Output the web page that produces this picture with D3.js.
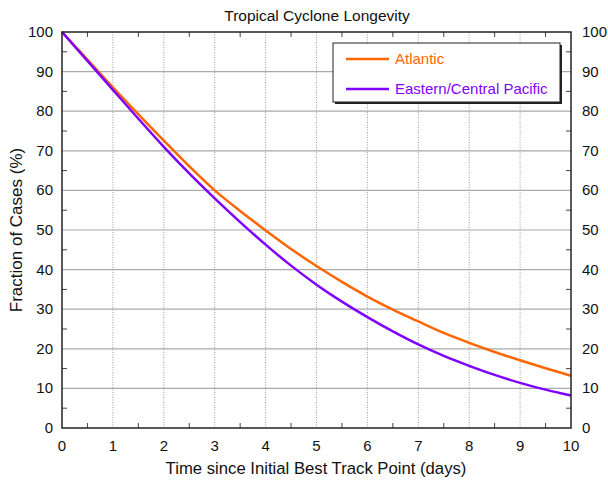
<!DOCTYPE html>
<html>
<head>
<meta charset="utf-8">
<script src="https://cdn.jsdelivr.net/npm/d3@7"></script>
<style>
  body { margin: 0; background: #fff; }
  svg { display: block; font-family: "Liberation Sans", Arial, sans-serif; }
</style>
</head>
<body>
<div id="chart"></div>
<script>
  const days = [0, 0.5, 1, 1.5, 2, 2.5, 3, 3.5, 4, 4.5, 5, 5.5, 6, 6.5, 7, 7.5, 8, 8.5, 9, 9.5, 10];
  const atlantic = [100, 93, 86, 79.2, 72.6, 66.1, 60, 54.8, 49.9, 45.2, 40.9, 36.9, 33.2, 29.9, 26.9, 24, 21.5, 19.2, 17.1, 15.1, 13.2];
  const pacific = [100, 92.7, 85.4, 78.1, 71, 64.3, 58, 52, 46.3, 41, 36.2, 31.9, 28, 24.4, 21.1, 18.2, 15.7, 13.4, 11.4, 9.7, 8.2];
  const seriesNames = ["Atlantic", "Eastern/Central Pacific"];
  const seriesColors = ["#ff6600", "#7f00ff"];
  const xTicks = d3.range(0, 11, 1);
  const yTicks = d3.range(0, 101, 10);

  const width = 608, height = 484;
  const margin = { top: 32, right: 37, bottom: 56, left: 62 };
  const iw = width - margin.left - margin.right;
  const ih = height - margin.top - margin.bottom;

  const svg = d3.select("#chart").append("svg")
    .attr("width", width)
    .attr("height", height);

  const g = svg.append("g")
    .attr("transform", "translate(" + margin.left + "," + margin.top + ")");

  const x = d3.scaleLinear().domain([0, 10]).range([0, iw]);
  const y = d3.scaleLinear().domain([0, 100]).range([ih, 0]);

  // grid: dotted verticals, solid horizontals
  g.selectAll(".vgrid").data(xTicks.slice(1, -1)).enter().append("line")
    .attr("x1", d => x(d)).attr("x2", d => x(d))
    .attr("y1", 0).attr("y2", ih)
    .style("stroke", "#999").style("stroke-width", 1).style("stroke-dasharray", "1,1.5");
  g.selectAll(".hgrid").data(yTicks.slice(1, -1)).enter().append("line")
    .attr("x1", 0).attr("x2", iw)
    .attr("y1", d => y(d)).attr("y2", d => y(d))
    .style("stroke", "#aaa").style("stroke-width", 1.2);

  // inward ticks on all four sides
  const tickStyle = sel => sel.style("stroke", "#444").style("stroke-width", 1);
  const xMinor = d3.range(0.5, 10, 1);
  const yMinor = d3.range(5, 100, 10);
  tickStyle(g.selectAll(".xmb").data(xMinor).enter().append("line")
    .attr("x1", d => x(d)).attr("x2", d => x(d)).attr("y1", ih).attr("y2", ih - 5));
  tickStyle(g.selectAll(".xmt").data(xMinor).enter().append("line")
    .attr("x1", d => x(d)).attr("x2", d => x(d)).attr("y1", 0).attr("y2", 5));
  tickStyle(g.selectAll(".yml").data(yMinor).enter().append("line")
    .attr("x1", 0).attr("x2", 5).attr("y1", d => y(d)).attr("y2", d => y(d)));
  tickStyle(g.selectAll(".ymr").data(yMinor).enter().append("line")
    .attr("x1", iw).attr("x2", iw - 5).attr("y1", d => y(d)).attr("y2", d => y(d)));

  // tick labels
  g.selectAll(".xl").data(xTicks).enter().append("text")
    .attr("x", d => x(d)).attr("y", ih + 23)
    .attr("text-anchor", "middle")
    .style("font-size", "15px").style("fill", "#111")
    .text(d => d);
  g.selectAll(".yl").data(yTicks).enter().append("text")
    .attr("x", -9).attr("y", d => y(d) + 5)
    .attr("text-anchor", "end")
    .style("font-size", "15px").style("fill", "#111")
    .text(d => d);
  g.selectAll(".yr").data(yTicks).enter().append("text")
    .attr("x", iw + 11).attr("y", d => y(d) + 5)
    .attr("text-anchor", "start")
    .style("font-size", "15px").style("fill", "#111")
    .text(d => d);

  // curves
  const line = d3.line()
    .x((d, i) => x(days[i]))
    .y(d => y(d))
    .curve(d3.curveCatmullRom);

  [atlantic, pacific].forEach((s, k) => {
    g.append("path")
      .datum(s)
      .attr("d", line)
      .style("fill", "none")
      .style("stroke", seriesColors[k])
      .style("stroke-width", 2.5);
  });

  // frame
  g.append("rect")
    .attr("width", iw).attr("height", ih)
    .style("fill", "none").style("stroke", "#222").style("stroke-width", 1.5);

  // legend with drop shadow
  const lx = 333 - margin.left, ly = 43 - margin.top, lw = 227, lh = 59;
  g.append("rect")
    .attr("x", lx + 2).attr("y", ly + 2).attr("width", lw).attr("height", lh)
    .style("fill", "#222");
  g.append("rect")
    .attr("x", lx).attr("y", ly).attr("width", lw).attr("height", lh)
    .style("fill", "#fff").style("stroke", "#222").style("stroke-width", 1);

  seriesNames.forEach((name, k) => {
    const yy = ly + 16 + k * 30;
    g.append("line")
      .attr("x1", lx + 13).attr("x2", lx + 56)
      .attr("y1", yy).attr("y2", yy)
      .style("stroke", seriesColors[k]).style("stroke-width", 2.5);
    g.append("text")
      .attr("x", lx + 62).attr("y", yy + 5)
      .style("font-size", "15px").style("fill", seriesColors[k])
      .text(name);
  });

  // titles
  svg.append("text")
    .attr("x", 317).attr("y", 21)
    .attr("text-anchor", "middle")
    .style("font-size", "15.5px").style("fill", "#111")
    .text("Tropical Cyclone Longevity");
  svg.append("text")
    .attr("x", 316).attr("y", 474)
    .attr("text-anchor", "middle")
    .style("font-size", "16.7px").style("fill", "#111")
    .text("Time since Initial Best Track Point (days)");
  svg.append("text")
    .attr("transform", "translate(22," + (margin.top + ih / 2) + ") rotate(-90)")
    .attr("text-anchor", "middle")
    .style("font-size", "17px").style("fill", "#111")
    .text("Fraction of Cases (%)");
</script>
</body>
</html>
